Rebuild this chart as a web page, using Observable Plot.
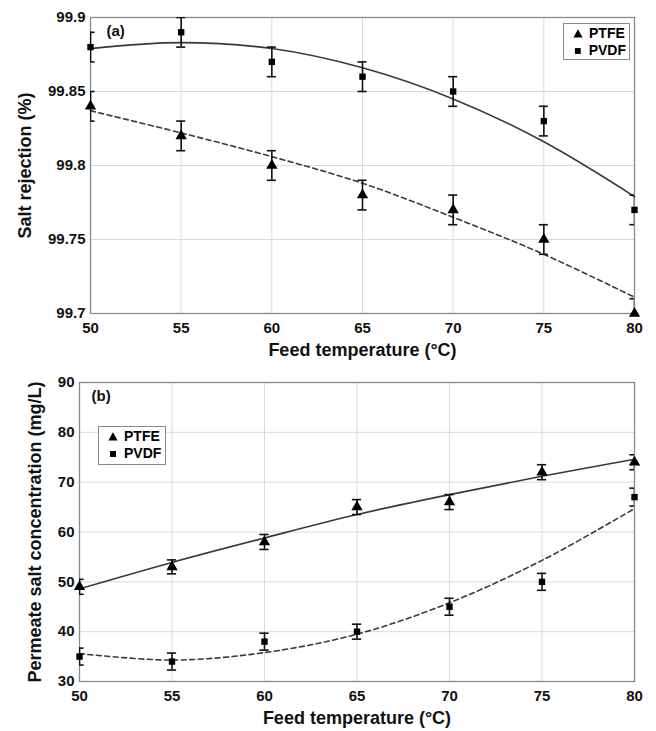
<!DOCTYPE html>
<html>
<head>
<meta charset="utf-8">
<script src="https://cdn.jsdelivr.net/npm/d3@7"></script>
<script src="https://cdn.jsdelivr.net/npm/@observablehq/plot@0.6"></script>
<style>
  body { margin: 0; background: #fff; }
  #wrap { position: relative; width: 656px; height: 731px; font-family: "Liberation Sans", Arial, sans-serif; }
  .panel { position: absolute; left: 0; }
  .legend {
    position: absolute; background: #fff; border: 1px solid #8a8a8a;
    font: bold 14px "Liberation Sans", Arial, sans-serif; color: #000;
    padding: 1px 3px 1px 8px; line-height: 17px; box-sizing: border-box;
  }
  .legend div { display: flex; align-items: center; white-space: nowrap; }
  .legend svg { width: 12px; height: 12px; margin-right: 5px; }
</style>
</head>
<body>
<div id="wrap"></div>
<script>
// Feed temperatures (°C)
const temps = [50, 55, 60, 65, 70, 75, 80];

// (a) Salt rejection (%)
const rejPTFE = [99.84, 99.82, 99.80, 99.78, 99.77, 99.75, 99.70];
const rejPVDF = [99.88, 99.89, 99.87, 99.86, 99.85, 99.83, 99.77];
const rejErrPTFE = [0.01, 0.01, 0.01, 0.01, 0.01, 0.01, 0.01];
const rejErrPVDF = [0.01, 0.01, 0.01, 0.01, 0.01, 0.01, 0.01];
// fitted trend curves for (a)
const rejFitPTFE = [99.837, 99.822, 99.806, 99.788, 99.765, 99.740, 99.711];
const rejFitPVDF = [99.879, 99.883, 99.879, 99.866, 99.845, 99.816, 99.779];
const rejTicks = [99.7, 99.75, 99.8, 99.85, 99.9];

// (b) Permeate salt concentration (mg/L)
const concPTFE = [49, 53, 58, 65, 66, 72, 74];
const concPVDF = [35, 34, 38, 40, 45, 50, 67];
const concErrPTFE = [1.5, 1.4, 1.5, 1.5, 1.5, 1.5, 1.5];
const concErrPVDF = [1.7, 1.7, 1.7, 1.5, 1.7, 1.7, 1.8];
// fitted trend curves for (b)
const concFitPTFE = [48.6, 53.9, 58.8, 63.5, 67.5, 71.2, 74.6];
const concFitPVDF = [35.6, 34.3, 35.8, 39.5, 45.8, 54.3, 64.7];
const concTicks = [30, 40, 50, 60, 70, 80, 90];

const rows = (vals, errs) => temps.map((t, i) => ({t, v: vals[i], e: errs ? errs[i] : 0}));

const capHalf = 0.25; // half width of error-bar caps, in °C

function errorMarks(data) {
  return [
    Plot.ruleX(data, {x: "t", y1: d => d.v - d.e, y2: d => d.v + d.e, stroke: "#111", strokeWidth: 1.6, clip: true}),
    Plot.ruleY(data, {y: d => d.v + d.e, x1: d => d.t - capHalf, x2: d => d.t + capHalf, stroke: "#111", strokeWidth: 1.6, clip: true}),
    Plot.ruleY(data, {y: d => d.v - d.e, x1: d => d.t - capHalf, x2: d => d.t + capHalf, stroke: "#111", strokeWidth: 1.6, clip: true})
  ];
}

function panel({height, marginLeft, marginTop, marginBottom, yDomain, yTicks, yFormat, yLabel, yLabelDx, tag, tagDx,
                ptfe, pvdf, fitPTFE, fitPVDF, ptfeDash, pvdfDash}) {
  return Plot.plot({
    width: 656,
    height,
    marginLeft,
    marginRight: 22,
    marginTop,
    marginBottom,
    style: {fontFamily: "'Liberation Sans', Arial, sans-serif", fontWeight: "bold", fontSize: "15px", color: "#111", background: "#fff", overflow: "visible"},
    x: {domain: [50, 80]},
    y: {domain: yDomain},
    marks: [
      Plot.gridX(temps, {stroke: "#dadada", strokeOpacity: 1, strokeWidth: 1}),
      Plot.gridY(yTicks, {stroke: "#dadada", strokeOpacity: 1, strokeWidth: 1}),
      Plot.frame({stroke: "#8a8a8a", strokeWidth: 1.3}),
      Plot.axisX({ticks: temps, tickFormat: d => String(d), tickSize: 0, tickPadding: 9, label: null, fontSize: 15, fontWeight: "bold"}),
      Plot.axisY({ticks: yTicks, tickFormat: yFormat, tickSize: 0, tickPadding: 5, label: null, fontSize: 15, fontWeight: "bold"}),
      Plot.text(["Feed temperature (°C)"], {frameAnchor: "bottom", dy: 37, fontSize: 18, fontWeight: "bold", textAnchor: "middle", lineAnchor: "middle"}),
      Plot.text([yLabel], {frameAnchor: "left", rotate: -90, dx: yLabelDx, fontSize: 18, fontWeight: "bold", textAnchor: "middle", lineAnchor: "middle"}),
      Plot.text([tag], {frameAnchor: "top-left", dx: tagDx, dy: 14, fontSize: 15, fontWeight: "bold", textAnchor: "start", lineAnchor: "middle"}),
      Plot.line(rows(fitPVDF), {x: "t", y: "v", curve: "catmull-rom", stroke: "#3a3a3a", strokeWidth: 1.6, strokeDasharray: pvdfDash}),
      Plot.line(rows(fitPTFE), {x: "t", y: "v", curve: "catmull-rom", stroke: "#3a3a3a", strokeWidth: 1.6, strokeDasharray: ptfeDash}),
      ...errorMarks(pvdf),
      ...errorMarks(ptfe),
      Plot.dot(pvdf, {x: "t", y: "v", symbol: "square", r: 3.6, fill: "#000", stroke: "none"}),
      Plot.dot(ptfe, {x: "t", y: "v", symbol: "triangle", r: 4.2, fill: "#000", stroke: "none"})
    ]
  });
}

const fmt = d => String(+d.toFixed(2));

const chartA = panel({
  height: 365, marginLeft: 90, marginTop: 17, marginBottom: 52,
  yDomain: [99.7, 99.9], yTicks: rejTicks, yFormat: fmt,
  yLabel: "Salt rejection (%)", yLabelDx: -65, tag: "(a)", tagDx: 16,
  ptfe: rows(rejPTFE, rejErrPTFE), pvdf: rows(rejPVDF, rejErrPVDF),
  fitPTFE: rejFitPTFE, fitPVDF: rejFitPVDF,
  ptfeDash: "5,3.5", pvdfDash: null
});

const chartB = panel({
  height: 366, marginLeft: 79, marginTop: 17, marginBottom: 50,
  yDomain: [30, 90], yTicks: concTicks, yFormat: d => String(d),
  yLabel: "Permeate salt concentration (mg/L)", yLabelDx: -44, tag: "(b)", tagDx: 12,
  ptfe: rows(concPTFE, concErrPTFE), pvdf: rows(concPVDF, concErrPVDF),
  fitPTFE: concFitPTFE, fitPVDF: concFitPVDF,
  ptfeDash: null, pvdfDash: "5,3.5"
});

const wrap = document.getElementById("wrap");
chartA.classList.add("panel");
chartA.style.top = "0px";
chartB.classList.add("panel");
chartB.style.top = "365px";
wrap.append(chartA, chartB);

// legends
const triSvg = '<svg viewBox="-6 -6 12 12"><path d="M0,-4.8L4.6,3.6L-4.6,3.6Z" fill="#000"/></svg>';
const sqSvg = '<svg viewBox="-6 -6 12 12"><rect x="-3" y="-3" width="6" height="6" fill="#000"/></svg>';
function legend(left, topPx, width, height) {
  const el = document.createElement("div");
  el.className = "legend";
  Object.assign(el.style, {left: left + "px", top: topPx + "px", width: width + "px", height: height + "px"});
  el.innerHTML = `<div>${triSvg}<span>PTFE</span></div><div>${sqSvg}<span>PVDF</span></div>`;
  wrap.append(el);
}
legend(563, 23, 67, 37);
legend(98, 426, 68, 39);
</script>
</body>
</html>
